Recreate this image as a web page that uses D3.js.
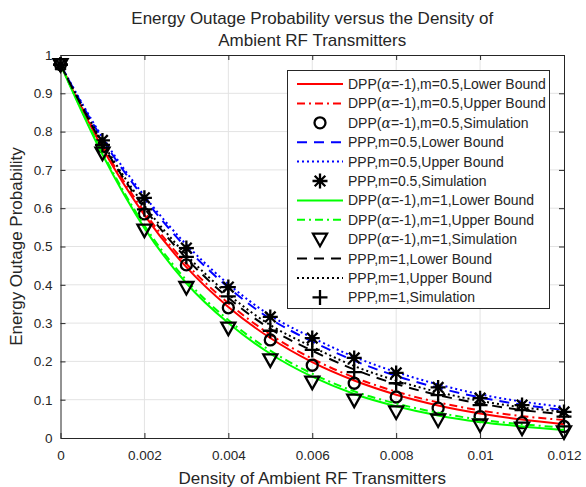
<!DOCTYPE html>
<html>
<head>
<meta charset="utf-8">
<script src="https://cdn.jsdelivr.net/npm/d3@7"></script>
<style>
  body { margin: 0; background: #fff; }
  text { font-family: "Liberation Sans", Arial, sans-serif; fill: #262626; }
</style>
</head>
<body>
<div id="vis"></div>
<script>
// density values (x) shared by every series
const density = [0, 0.001, 0.002, 0.003, 0.004, 0.005, 0.006, 0.007, 0.008, 0.009, 0.010, 0.011, 0.012]

// DPP(alpha=-1), m=0.5
const dpp05Lower = [0.975, 0.757, 0.582, 0.446, 0.342, 0.261, 0.198, 0.150, 0.113, 0.085, 0.064, 0.048, 0.036]
const dpp05Upper = [0.975, 0.763, 0.590, 0.455, 0.352, 0.270, 0.207, 0.158, 0.121, 0.093, 0.072, 0.057, 0.047]
const dpp05Sim   = [0.975, 0.760, 0.585, 0.452, 0.340, 0.256, 0.190, 0.143, 0.107, 0.078, 0.056, 0.040, 0.030]
// PPP, m=0.5
const ppp05Lower = [0.975, 0.780, 0.625, 0.497, 0.393, 0.311, 0.252, 0.202, 0.162, 0.131, 0.106, 0.087, 0.073]
const ppp05Upper = [0.975, 0.785, 0.632, 0.505, 0.402, 0.320, 0.262, 0.212, 0.172, 0.140, 0.114, 0.095, 0.081]
const ppp05Sim   = [0.975, 0.777, 0.627, 0.496, 0.394, 0.316, 0.261, 0.209, 0.170, 0.132, 0.104, 0.086, 0.068]
// DPP(alpha=-1), m=1
const dpp1Lower  = [0.975, 0.740, 0.548, 0.404, 0.300, 0.220, 0.160, 0.115, 0.083, 0.059, 0.042, 0.030, 0.021]
const dpp1Upper  = [0.975, 0.745, 0.555, 0.412, 0.308, 0.228, 0.168, 0.122, 0.090, 0.066, 0.048, 0.036, 0.027]
const dpp1Sim    = [0.975, 0.744, 0.543, 0.393, 0.287, 0.204, 0.146, 0.099, 0.068, 0.047, 0.034, 0.026, 0.016]
// PPP, m=1
const ppp1Lower  = [0.975, 0.767, 0.600, 0.469, 0.366, 0.285, 0.228, 0.179, 0.141, 0.112, 0.090, 0.073, 0.062]
const ppp1Upper  = [0.975, 0.772, 0.607, 0.478, 0.375, 0.295, 0.238, 0.188, 0.150, 0.120, 0.097, 0.080, 0.069]
const ppp1Sim    = [0.975, 0.765, 0.597, 0.473, 0.370, 0.280, 0.230, 0.172, 0.143, 0.112, 0.086, 0.073, 0.056]

const xTicks = [0, 0.002, 0.004, 0.006, 0.008, 0.01, 0.012]
const yTicks = [0, 0.1, 0.2, 0.3, 0.4, 0.5, 0.6, 0.7, 0.8, 0.9, 1]

const legendLabels = [
  'DPP(α=-1),m=0.5,Lower Bound', 'DPP(α=-1),m=0.5,Upper Bound', 'DPP(α=-1),m=0.5,Simulation',
  'PPP,m=0.5,Lower Bound', 'PPP,m=0.5,Upper Bound', 'PPP,m=0.5,Simulation',
  'DPP(α=-1),m=1,Lower Bound', 'DPP(α=-1),m=1,Upper Bound', 'DPP(α=-1),m=1,Simulation',
  'PPP,m=1,Lower Bound', 'PPP,m=1,Upper Bound', 'PPP,m=1,Simulation'
]

// series table: values + how to draw them
const series = [
  { y: dpp05Lower, color: '#ff0000', dash: null },
  { y: dpp05Upper, color: '#ff0000', dash: '8,4,2,4' },
  { y: dpp05Sim, marker: 'circle' },
  { y: ppp05Lower, color: '#0000ff', dash: '10,7' },
  { y: ppp05Upper, color: '#0000ff', dash: '2,3' },
  { y: ppp05Sim, marker: 'asterisk' },
  { y: dpp1Lower, color: '#00ff00', dash: null },
  { y: dpp1Upper, color: '#00ff00', dash: '8,4,2,4' },
  { y: dpp1Sim, marker: 'triangle' },
  { y: ppp1Lower, color: '#000000', dash: '10,7' },
  { y: ppp1Upper, color: '#000000', dash: '2,3' },
  { y: ppp1Sim, marker: 'plus' }
].map((s, i) => Object.assign(s, { label: legendLabels[i] }))

const W = 586, H = 487
const plot = { left: 60.5, right: 564, top: 55, bottom: 438 }

const svg = d3.select('#vis').append('svg')
  .attr('width', W).attr('height', H)

const x = d3.scaleLinear().domain([0, 0.012]).range([plot.left, plot.right])
const y = d3.scaleLinear().domain([0, 1]).range([plot.bottom, plot.top])

// grid
svg.append('g').selectAll('line').data(xTicks.slice(1, -1)).join('line')
  .attr('x1', d => x(d)).attr('x2', d => x(d))
  .attr('y1', plot.top).attr('y2', plot.bottom)
  .attr('stroke', '#e3e3e3').attr('stroke-width', 1)
svg.append('g').selectAll('line').data(yTicks.slice(1, -1)).join('line')
  .attr('y1', d => y(d)).attr('y2', d => y(d))
  .attr('x1', plot.left).attr('x2', plot.right)
  .attr('stroke', '#e3e3e3').attr('stroke-width', 1)

// axes (ticks inward, box on)
const axisColor = '#262626'
svg.append('g').attr('transform', `translate(0,${plot.bottom})`)
  .call(d3.axisBottom(x).tickValues(xTicks).tickFormat(d3.format('~g')).tickSizeInner(-5).tickSizeOuter(0).tickPadding(12))
svg.append('g').attr('transform', `translate(0,${plot.top})`)
  .call(d3.axisTop(x).tickValues(xTicks).tickFormat('').tickSizeInner(-5).tickSizeOuter(0))
svg.append('g').attr('transform', `translate(${plot.left},0)`)
  .call(d3.axisLeft(y).tickValues(yTicks).tickFormat(d3.format('~g')).tickSizeInner(-5).tickSizeOuter(0).tickPadding(8))
svg.append('g').attr('transform', `translate(${plot.right},0)`)
  .call(d3.axisRight(y).tickValues(yTicks).tickFormat('').tickSizeInner(-5).tickSizeOuter(0))

svg.selectAll('.domain, .tick line').attr('stroke', axisColor).attr('stroke-width', 1)
svg.selectAll('.tick text').style('font-size', '13.5px').attr('fill', axisColor)
  .style('font-family', '"Liberation Sans", Arial, sans-serif')

// lines
const line = d3.line().x((d, i) => x(density[i])).y(d => y(d)).curve(d3.curveMonotoneX)

// marker shapes, centred on 0,0
function drawMarker(g, type) {
  let el
  if (type === 'circle') {
    el = g.append('circle').attr('r', 5.5)
  } else if (type === 'asterisk') {
    el = g.append('path').attr('d', 'M-7.5,0H7.5M0,-7.5V7.5M-5.3,-5.3L5.3,5.3M-5.3,5.3L5.3,-5.3')
  } else if (type === 'triangle') {
    el = g.append('path').attr('d', 'M-7,-5.5L7,-5.5L0,7Z')
  } else {
    el = g.append('path').attr('d', 'M-7.5,0H7.5M0,-7.5V7.5')
  }
  el.attr('fill', 'none').attr('stroke', '#000').attr('stroke-width', 2.3)
}

series.forEach(s => {
  if (s.marker) {
    svg.append('g').selectAll('g').data(s.y).join('g')
      .attr('transform', (d, i) => `translate(${x(density[i])},${y(d)})`)
      .each(function () { drawMarker(d3.select(this), s.marker) })
  } else {
    svg.append('path').datum(s.y)
      .attr('d', line)
      .attr('fill', 'none')
      .attr('stroke', s.color)
      .attr('stroke-width', 2)
      .attr('stroke-dasharray', s.dash)
  }
})

// legend
const lg = { x: 287, y: 70, w: 262, h: 238, row0: 84, step: 19.4 }
svg.append('rect')
  .attr('x', lg.x + 0.5).attr('y', lg.y + 0.5).attr('width', lg.w).attr('height', lg.h)
  .attr('fill', '#fff').attr('stroke', axisColor).attr('stroke-width', 1)

series.forEach((s, i) => {
  const ry = lg.row0 + i * lg.step
  if (s.marker) {
    const g = svg.append('g').attr('transform', `translate(${(297 + 343) / 2},${ry})`)
    drawMarker(g, s.marker)
  } else {
    svg.append('line')
      .attr('x1', 297).attr('x2', 343).attr('y1', ry).attr('y2', ry)
      .attr('stroke', s.color).attr('stroke-width', 2)
      .attr('stroke-dasharray', s.dash)
  }
  const t = svg.append('text').attr('x', 348).attr('y', ry + 5)
    .style('font-size', '14px')
  const parts = s.label.split('α')
  t.append('tspan').text(parts[0])
  if (parts.length > 1) {
    t.append('tspan').text('α').style('font-family', '"DejaVu Serif", serif').style('font-style', 'italic')
    t.append('tspan').text(parts[1])
  }
})

// title and axis labels
const cx = (plot.left + plot.right) / 2
svg.append('text').attr('x', cx).attr('y', 24).attr('text-anchor', 'middle')
  .style('font-size', '17px').text('Energy Outage Probability versus the Density of')
svg.append('text').attr('x', cx).attr('y', 46).attr('text-anchor', 'middle')
  .style('font-size', '17px').text('Ambient RF Transmitters')
svg.append('text').attr('x', cx).attr('y', 484).attr('text-anchor', 'middle')
  .style('font-size', '17px').text('Density of Ambient RF Transmitters')
svg.append('text')
  .attr('transform', `translate(22,${(plot.top + plot.bottom) / 2}) rotate(-90)`)
  .attr('text-anchor', 'middle')
  .style('font-size', '17px').text('Energy Outage Probability')
</script>
</body>
</html>
